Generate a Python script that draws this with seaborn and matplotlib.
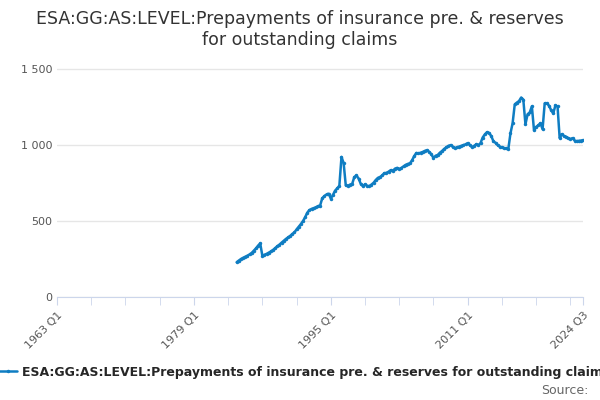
import matplotlib
matplotlib.use("Agg")
import matplotlib.pyplot as plt
import seaborn as sns
import pandas as pd
import numpy as np

start_quarter = 84  # 1984 Q1 as quarter index from 1963 Q1
values = [229,240,250,258, 265,272,280,290, 305,320,338,353, 272,278,284,292,
          300,310,322,334, 345,358,370,382, 392,402,415,425, 445,462,480,500,
          525,555,572,580, 585,590,598,602, 650,665,675,680, 648,672,700,715,
          732,922,882,735, 732,740,745,790, 800,780,745,730, 742,732,730,740,
          752,770,784,790, 800,815,817,825, 835,830,845,850, 843,850,860,870,
          876,880,900,928, 948,945,950,955, 962,967,955,940, 915,930,935,950,
          961,975,985,995, 1000,990,980,985, 990,995,1000,1005, 1013,1000,987,995,
          1005,1000,1013,1050, 1070,1085,1080,1060, 1026,1015,1000,990, 985,980,978,975,
          1078,1144,1268,1280, 1290,1313,1300,1137, 1203,1215,1255,1098, 1120,1130,1144,1105,
          1275,1275,1260,1230, 1209,1261,1255,1046, 1072,1060,1055,1046, 1040,1046,1030,1026,
          1028,1030,1033]
tick_pos = [0, 64, 128, 192, 246]
tick_labels = ["1963 Q1", "1979 Q1", "1995 Q1", "2011 Q1", "2024 Q3"]
series_name = "ESA:GG:AS:LEVEL:Prepayments of insurance pre. & reserves for outstanding claims"

df = pd.DataFrame({"q": np.arange(start_quarter, start_quarter + len(values)), "v": values})

sns.set_style("white")
plt.rcParams['font.family'] = ['DejaVu Sans']
fig = plt.figure(figsize=(6, 4), dpi=100)
ax = fig.add_axes([0.095, 0.2575, 0.877, 0.6])
color = "#0f7dc2"
sns.lineplot(data=df, x="q", y="v", ax=ax, color=color, lw=1.8, marker="o",
             markersize=2.5, markeredgewidth=0, label=series_name)
ax.set_xlim(0, 246)
ax.set_ylim(0, 1580)
ax.set_yticks([0, 500, 1000, 1500])
ax.set_yticklabels(["0", "500", "1 000", "1 500"], color="#555555", fontsize=8)
ax.set_xticks(tick_pos)
ax.set_xticklabels(tick_labels, rotation=45, ha="right", rotation_mode="anchor", color="#555555", fontsize=8)
ax.set_xticks(np.arange(16, 246, 16), minor=True)
ax.tick_params(axis="x", which="both", length=6, color="#ccd6eb", direction="out", bottom=True)
ax.tick_params(axis="y", length=0)
ax.grid(axis="y", color="#e6e6e6", lw=1)
for s in ["top", "right", "left"]:
    ax.spines[s].set_visible(False)
ax.spines["bottom"].set_color("#ccd6eb")
ax.set_xlabel(""); ax.set_ylabel("")
ax.legend(loc="upper center", bbox_to_anchor=(0.47, -0.24), frameon=False,
          prop={"weight": "bold", "size": 9}, handlelength=1.5, handletextpad=0.4)
fig.suptitle("ESA:GG:AS:LEVEL:Prepayments of insurance pre. & reserves\nfor outstanding claims",
             y=0.975, fontsize=12.5, color="#333333")
fig.text(0.98, 0.015, "Source:", ha="right", fontsize=9, color="#666666")
fig.savefig("out.png", dpi=100)
